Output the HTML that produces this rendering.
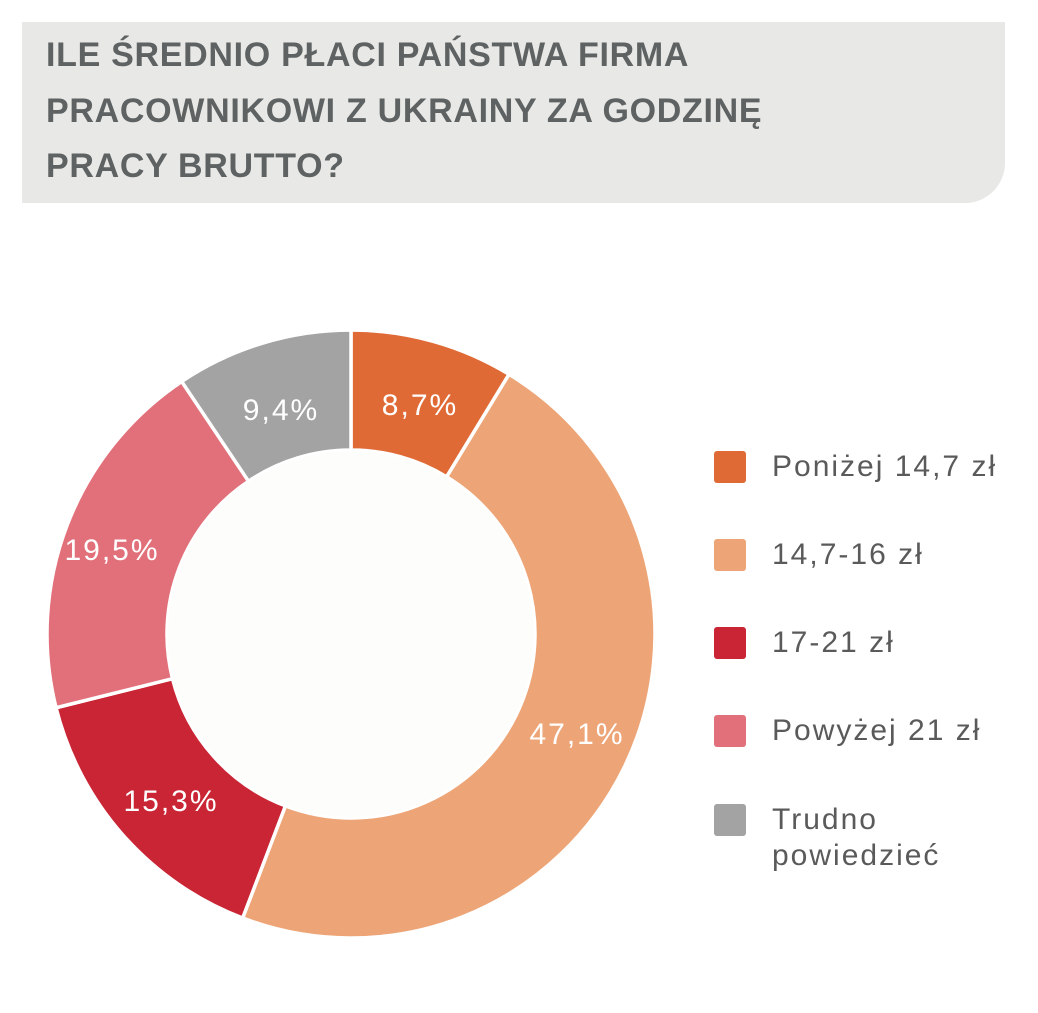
<!DOCTYPE html>
<html><head><meta charset="utf-8"><style>
html,body{margin:0;padding:0;background:#fff;}
body{width:1038px;height:1013px;position:relative;overflow:hidden;font-family:"Liberation Sans",sans-serif;}
.title{position:absolute;left:22px;top:22px;width:983px;height:181px;background:#e8e8e6;border-bottom-right-radius:40px;}
.title div{position:absolute;left:24px;font-size:34px;line-height:34px;font-weight:bold;color:#5e6262;letter-spacing:0.7px;white-space:nowrap;}
.leg{position:absolute;left:714px;}
.sq{position:absolute;left:0;width:32px;height:32px;border-radius:3px;}
.lt{position:absolute;left:58px;font-size:30px;color:#5a5a5a;white-space:nowrap;line-height:36px;letter-spacing:2px;}
</style></head><body>
<div class="title">
<div style="top:16px">ILE ŚREDNIO PŁACI PAŃSTWA FIRMA</div>
<div style="top:72px">PRACOWNIKOWI Z UKRAINY ZA GODZINĘ</div>
<div style="top:127px">PRACY BRUTTO?</div>
</div>
<svg id="c" width="1038" height="1013" style="position:absolute;left:0;top:0"></svg>
<div class="leg" style="top:451px"><div class="sq" style="background:#e06a35"></div><div class="lt" style="top:-2px">Poniżej 14,7 zł</div></div>
<div class="leg" style="top:539px"><div class="sq" style="background:#eda577"></div><div class="lt" style="top:-2px">14,7-16 zł</div></div>
<div class="leg" style="top:627px"><div class="sq" style="background:#c92535"></div><div class="lt" style="top:-2px">17-21 zł</div></div>
<div class="leg" style="top:715px"><div class="sq" style="background:#e2707a"></div><div class="lt" style="top:-2px">Powyżej 21 zł</div></div>
<div class="leg" style="top:804px"><div class="sq" style="background:#a3a3a3"></div><div class="lt" style="top:-2px">Trudno<br>powiedzieć</div></div>
<script>
var cx=351,cy=634,R=304,r=184;
var d=[[8.7,"#e06a35","8,7%",420,404],[47.1,"#eda577","47,1%",577,733],[15.3,"#c92535","15,3%",171,800],[19.5,"#e2707a","19,5%",112,549],[9.4,"#a3a3a3","9,4%",281,409]];
var s="",a=0;
function p(rad,ang){return [cx+rad*Math.sin(ang),cy-rad*Math.cos(ang)];}
d.forEach(function(e){
 var a0=a*2*Math.PI/100;a+=e[0];var a1=a*2*Math.PI/100;var lg=(a1-a0)>Math.PI?1:0;
 var A=p(R,a0),B=p(R,a1),C=p(r,a1),D=p(r,a0);
 s+='<path d="M'+A+' A'+R+','+R+' 0 '+lg+' 1 '+B+' L'+C+' A'+r+','+r+' 0 '+lg+' 0 '+D+' Z" fill="'+e[1]+'" stroke="#fff" stroke-width="3.5"/>';
});
s+='<circle cx="'+cx+'" cy="'+cy+'" r="'+(r-1)+'" fill="#fdfdfc"/>';
d.forEach(function(e){s+='<text x="'+e[3]+'" y="'+(e[4]+11)+'" text-anchor="middle" font-family="Liberation Sans, sans-serif" font-size="30" letter-spacing="2" fill="#fff">'+e[2]+'</text>';});
document.getElementById("c").innerHTML=s;
</script>
</body></html>
